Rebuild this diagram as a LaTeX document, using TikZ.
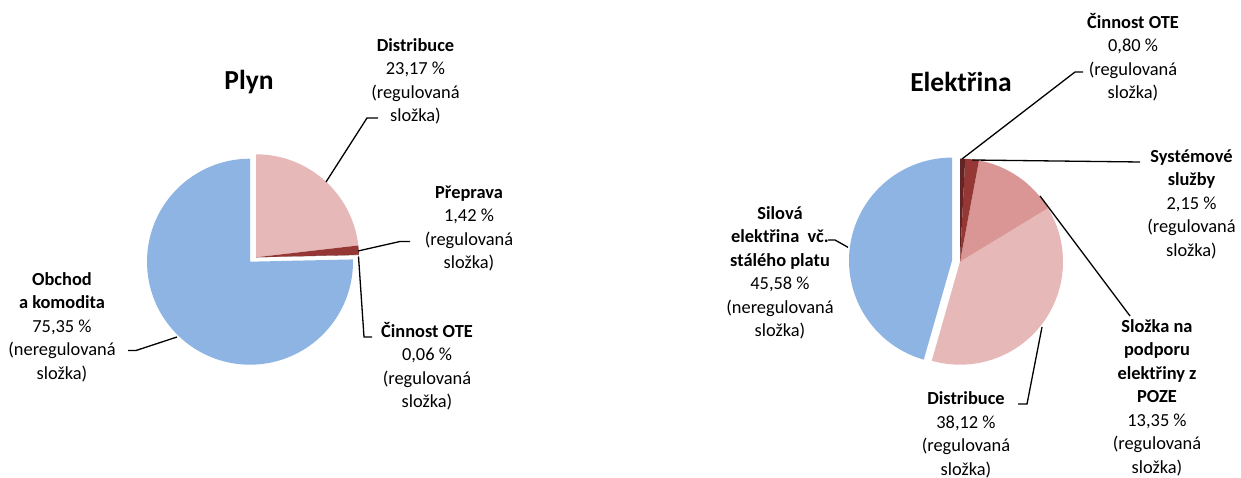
\documentclass[tikz,border=0pt]{standalone}
\usepackage{fontspec}
\setmainfont{Carlito}
\definecolor{pieblue}{RGB}{142,180,227}
\definecolor{piepink}{RGB}{230,185,184}
\definecolor{piemid}{RGB}{217,150,148}
\definecolor{piedark}{RGB}{149,55,53}
\definecolor{piedarker}{RGB}{99,37,35}
\newcommand\piesector[4]{\fill[#1] (#2) -- ++(#3:103pt) arc[start angle=#3, end angle=#4, radius=103pt] -- cycle;}
\begin{document}
\begin{tikzpicture}[x=1pt,y=1pt,
  lbl/.style={align=center, font=\fontsize{18.4}{23.5}\selectfont, inner sep=0pt},
  ttl/.style={font=\fontsize{27.5}{33}\selectfont\bfseries, inner sep=0pt, anchor=base},
  leader/.style={line width=1.3pt, black}]
\useasboundingbox (0,0) rectangle (1241,478);
\fill[white] (0,0) rectangle (1241,478);

% ---------- Plyn ----------
\coordinate (pc) at (256,220.7);
\coordinate (pb) at (250,216.3);
\piesector{pieblue}{pb}{90}{361.26}
\piesector{piepink}{pc}{6.59}{90}
\piesector{piedark}{pc}{1.48}{6.59}
\piesector{piedarker}{pc}{1.26}{1.48}

\node[ttl] (tplyn) at (249,388.5) {Plyn};

\node[lbl] (pdist) at (415.5,396.7) {\textbf{Distribuce}\\23,17 \%\\(regulovaná\\složka)};
\node[lbl] (pprep) at (469,249.7) {\textbf{Přeprava}\\1,42 \%\\(regulovaná\\složka)};
\node[lbl] (pobch) at (62,150.7) {\textbf{Obchod}\\\textbf{a komodita}\\75,35 \%\\(neregulovaná\\složka)};
\node[lbl] (pote) at (427,112) {\textbf{Činnost OTE}\\0,06 \%\\(regulovaná\\složka)};

\coordinate (a1) at (326,296); \coordinate (a2) at (367,360); \coordinate (a3) at (378,360);
\coordinate (b1) at (358,227); \coordinate (b2) at (400,236.5); \coordinate (b3) at (410,236.5);
\coordinate (c1) at (358.5,221.5); \coordinate (c2) at (364,141); \coordinate (c3) at (372,141);
\coordinate (d1) at (177,141); \coordinate (d2) at (136,127.5); \coordinate (d3) at (128,127.5);
\draw[leader] (a1) -- (a2) -- (a3);
\draw[leader] (b1) -- (b2) -- (b3);
\draw[leader] (c1) -- (c2) -- (c3);
\draw[leader] (d1) -- (d2) -- (d3);

% ---------- Elektrina ----------
\coordinate (ec) at (960,216.3);
\coordinate (eb) at (952,217.4);
\piesector{pieblue}{eb}{90}{254.09}
\piesector{piepink}{ec}{-105.91}{31.32}
\piesector{piemid}{ec}{31.32}{79.38}
\piesector{piedark}{ec}{79.38}{87.12}
\piesector{piedarker}{ec}{87.12}{90}

\node[ttl] (telek) at (961,386.5) {Elektřina};

\node[lbl] (eote) at (1133,420.7) {\textbf{Činnost OTE}\\0,80 \%\\(regulovaná\\složka)};
\node[lbl] (esys) at (1191.5,274) {\textbf{Systémové}\\\textbf{služby}\\2,15 \%\\(regulovaná\\složka)};
\node[lbl] (esil) at (780,205) {\textbf{Silová}\\\textbf{elektřina~~vč.}\\\textbf{stálého platu}\\45,58 \%\\(neregulovaná\\složka)};
\node[lbl] (epoze) at (1157,80.2) {\textbf{Složka na}\\\textbf{podporu}\\\textbf{elektřiny z}\\\textbf{POZE}\\13,35 \%\\(regulovaná\\složka)};
\node[lbl] (edist) at (966,43) {\textbf{Distribuce}\\38,12 \%\\(regulovaná\\složka)};

\coordinate (e1) at (962,319); \coordinate (e2) at (1075,406); \coordinate (e3) at (1083,406);
\coordinate (f1) at (972,318); \coordinate (f2) at (1140,316);
\coordinate (g1) at (1040,282); \coordinate (g2) at (1130,162);
\coordinate (h1) at (1042,151); \coordinate (h2) at (1027,74); \coordinate (h3) at (1018,74);
\coordinate (i1) at (848,230.7); \coordinate (i2) at (835,238); \coordinate (i3) at (828,238);
\draw[leader] (e1) -- (e2) -- (e3);
\draw[leader] (f1) -- (f2);
\draw[leader] (g1) -- (g2);
\draw[leader] (h1) -- (h2) -- (h3);
\draw[leader] (i1) -- (i2) -- (i3);
\end{tikzpicture}
\end{document}
